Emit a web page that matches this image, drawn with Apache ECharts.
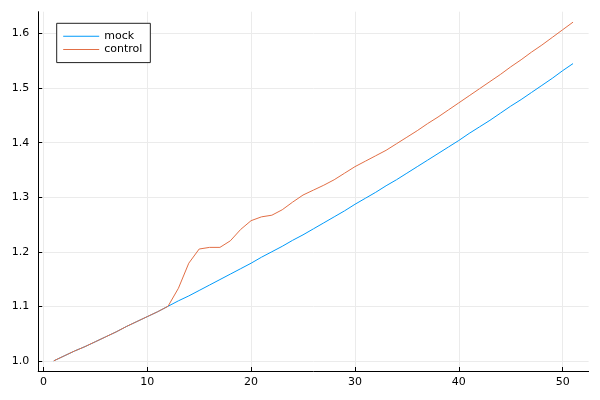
<!DOCTYPE html>
<html>
<head>
<meta charset="utf-8">
<script src="https://cdn.jsdelivr.net/npm/echarts@6/dist/echarts.min.js"></script>
<style>
html,body{margin:0;padding:0;background:#fff;}
#chart{width:600px;height:400px;}
</style>
</head>
<body>
<div id="chart"></div>
<script>
// ---- data ----
const xValues = [1,2,3,4,5,6,7,8,9,10,11,12,13,14,15,16,17,18,19,20,21,22,23,24,25,26,27,28,29,30,31,32,33,34,35,36,37,38,39,40,41,42,43,44,45,46,47,48,49,50,51];
const mock = [1.000,1.009,1.018,1.026,1.035,1.044,1.053,1.063,1.072,1.081,1.090,1.100,
  1.110,1.119,1.129,1.139,1.149,1.159,1.169,1.179,1.190,1.200,1.210,1.221,1.231,1.242,1.253,1.264,1.275,1.287,
  1.298,1.309,1.321,1.332,1.344,1.356,1.368,1.380,1.392,1.404,1.417,1.429,1.441,1.454,1.467,1.479,1.492,1.505,1.518,1.532,1.545];
const control = [1.000,1.009,1.018,1.026,1.035,1.044,1.053,1.063,1.072,1.081,1.090,1.100,
  1.133,1.179,1.205,1.208,1.208,1.220,1.241,1.257,1.264,1.267,1.277,1.291,1.304,1.313,1.322,1.332,1.344,1.356,
  1.366,1.376,1.386,1.398,1.410,1.422,1.435,1.447,1.460,1.473,1.486,1.499,1.512,1.525,1.539,1.552,1.566,1.579,1.593,1.607,1.621];
const seriesNames = ['mock','control'];
const xTicks = [0,10,20,30,40,50];
const yTicks = [1.0,1.1,1.2,1.3,1.4,1.5,1.6];

const pairs = ys => xValues.map((x,i)=>[x, ys[i]]);

const chart = echarts.init(document.getElementById('chart'), null, {renderer:'canvas'});
const font = 'DejaVu Sans';
const axisCommon = {
  axisLine:{show:true, onZero:false, lineStyle:{color:'#000', width:1}},
  axisTick:{show:true, inside:true, length:4, lineStyle:{color:'#000', width:1}},
  splitLine:{show:true, lineStyle:{color:'#ebebeb', width:1}},
};
chart.setOption({
  animation:false,
  backgroundColor:'#fff',
  grid:{left:38.2, right:11.4, top:11.7, bottom:29, containLabel:false},
  legend:{
    left:56.7, top:23.3, orient:'vertical',
    data:seriesNames,
    icon:'rect', itemWidth:36, itemHeight:1, itemGap:0.3,
    padding:[6.5,8,6.5,6.5],
    borderColor:'#222', borderWidth:1, backgroundColor:'#fff',
    textStyle:{fontFamily:font, fontSize:11, color:'#000', lineHeight:13}
  },
  xAxis:{
    type:'value', min:-0.5, max:52.5,
    ...axisCommon,
    axisTick:{...axisCommon.axisTick, customValues:xTicks},
    axisLabel:{customValues:xTicks, fontFamily:font, fontSize:11, color:'#000', margin:6},
  },
  yAxis:{
    type:'value', min:0.98135, max:1.64015,
    ...axisCommon,
    axisTick:{...axisCommon.axisTick, customValues:yTicks},
    axisLabel:{customValues:yTicks, fontFamily:font, fontSize:11, color:'#000', margin:9,
      formatter:v=>v.toFixed(1)},
  },
  series:[
    {name:seriesNames[0], type:'line', data:pairs(mock), showSymbol:false, symbol:'none',
     lineStyle:{color:'#009AFA', width:1}, itemStyle:{color:'#009AFA'}},
    {name:seriesNames[1], type:'line', data:pairs(control), showSymbol:false, symbol:'none',
     lineStyle:{color:'#E26F46', width:1}, itemStyle:{color:'#E26F46'}}
  ]
});
</script>
</body>
</html>
